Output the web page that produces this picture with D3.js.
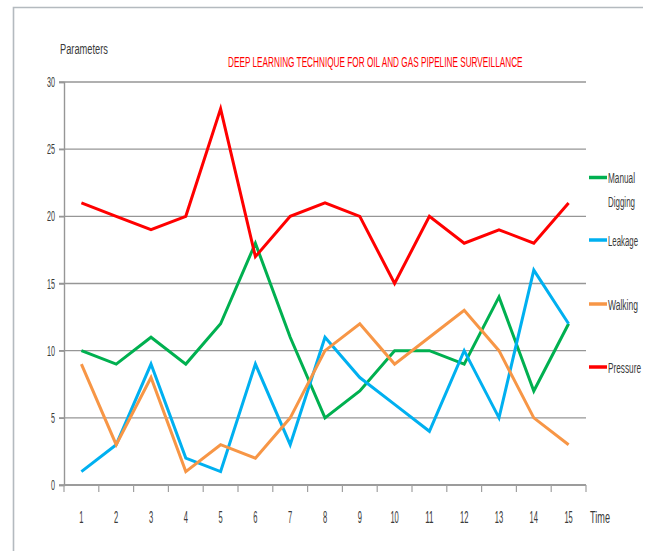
<!DOCTYPE html>
<html>
<head>
<meta charset="utf-8">
<script src="https://cdn.jsdelivr.net/npm/d3@7"></script>
<style>
  html, body { margin: 0; padding: 0; background: #fff; }
  svg text { font-family: "Liberation Sans", Arial, sans-serif; fill: #3a3a3a; }
</style>
</head>
<body>
<svg id="chart" width="647" height="552"></svg>
<script>
// Time steps and the four monitored parameters
const times = [1, 2, 3, 4, 5, 6, 7, 8, 9, 10, 11, 12, 13, 14, 15];
const manualDigging = [10, 9, 11, 9, 12, 18, 11, 5, 7, 10, 10, 9, 14, 7, 12];
const leakage       = [1, 3, 9, 2, 1, 9, 3, 11, 8, 6, 4, 10, 5, 16, 12];
const walking       = [9, 3, 8, 1, 3, 2, 5, 10, 12, 9, 11, 13, 10, 5, 3];
const pressure      = [21, 20, 19, 20, 28, 17, 20, 21, 20, 15, 20, 18, 19, 18, 21];
const yTicks = [0, 5, 10, 15, 20, 25, 30];

const seriesNames  = ["Manual Digging", "Leakage", "Walking", "Pressure"];
const seriesValues = [manualDigging, leakage, walking, pressure];
const seriesColors = ["#00B050", "#00B0F0", "#F79646", "#FF0000"];

const svg = d3.select("#chart");

// condensed text: font size sets the height, a horizontal scale sets the width
function label(parent, x, y, str, size, width, anchor = "start") {
  const t = parent.append("text")
    .attr("x", 0).attr("y", 0)
    .attr("font-size", size)
    .attr("text-anchor", anchor)
    .text(str);
  const natural = t.node().getComputedTextLength() || width;
  t.attr("transform", `translate(${x},${y}) scale(${width / natural},1)`);
  return t;
}

// chart frame
svg.append("path")
  .attr("d", "M13.5,551 L13.5,7.5 L643,7.5")
  .attr("fill", "none")
  .attr("stroke", "#b4babf")
  .attr("stroke-width", 1.6);

const plotLeft = 64, plotRight = 586, plotTop = 82, plotBottom = 485;

const x = d3.scaleBand().domain(times).range([plotLeft, plotRight]);
const y = d3.scaleLinear().domain([0, 30]).range([plotBottom, plotTop]);

// horizontal gridlines
svg.append("g")
  .selectAll("line")
  .data(yTicks)
  .join("line")
  .attr("x1", plotLeft - 5).attr("x2", plotRight)
  .attr("y1", d => y(d)).attr("y2", d => y(d))
  .attr("stroke", "#969696").attr("stroke-width", 1.4);

// y axis
const yAxis = svg.append("g")
  .attr("transform", `translate(${plotLeft},0)`)
  .call(d3.axisLeft(y).tickValues(yTicks).tickSize(5).tickFormat(""));
yAxis.select(".domain").attr("stroke", "#969696").attr("stroke-width", 1.4);
yAxis.selectAll(".tick line").attr("stroke", "#969696").attr("stroke-width", 1.4);
yTicks.forEach(t => {
  label(svg, 55, y(t) + 5, String(t), 14, 4 * String(t).length, "end");
});

// x axis with ticks on category boundaries
const xAxisG = svg.append("g").attr("transform", `translate(0,${plotBottom})`);
xAxisG.append("line")
  .attr("x1", plotLeft).attr("x2", plotRight)
  .attr("stroke", "#969696").attr("stroke-width", 1.6);
xAxisG.selectAll("line.tk")
  .data(d3.range(times.length + 1))
  .join("line").attr("class", "tk")
  .attr("x1", i => plotLeft + i * x.step()).attr("x2", i => plotLeft + i * x.step())
  .attr("y1", 0).attr("y2", 7)
  .attr("stroke", "#a0a0a0").attr("stroke-width", 1.2);
times.forEach(t => {
  label(svg, x(t) + x.bandwidth() / 2, 523, String(t), 16.5, 4.2 * String(t).length, "middle");
});

// axis titles and chart title
label(svg, 60, 54, "Parameters", 15, 48);
label(svg, 590, 523, "Time", 17, 20);
label(svg, 228, 67, "DEEP LEARNING TECHNIQUE FOR OIL AND GAS PIPELINE SURVEILLANCE", 15, 295)
  .style("fill", "#FF0000");

// series lines
const line = d3.line()
  .x((d, i) => x(times[i]) + x.bandwidth() / 2)
  .y(d => y(d));

svg.append("g")
  .selectAll("path")
  .data(seriesValues)
  .join("path")
  .attr("d", d => line(d))
  .attr("fill", "none")
  .attr("stroke", (d, i) => seriesColors[i])
  .attr("stroke-width", 3)
  .attr("stroke-linejoin", "miter");

// legend
const legendY = [177.5, 240, 304, 367];
const legendTextW = { "Manual": 27, "Digging": 27, "Leakage": 30, "Walking": 30, "Pressure": 33 };
seriesNames.forEach((name, i) => {
  const g = svg.append("g").attr("transform", `translate(589,${legendY[i]})`);
  g.append("line").attr("x1", 0).attr("x2", 18)
    .attr("stroke", seriesColors[i]).attr("stroke-width", 3.5);
  const words = name === "Manual Digging" ? ["Manual", "Digging"] : [name];
  words.forEach((w, j) => {
    label(g, 19, 5.5 + j * 24, w, 15, legendTextW[w]);
  });
});
</script>
</body>
</html>
